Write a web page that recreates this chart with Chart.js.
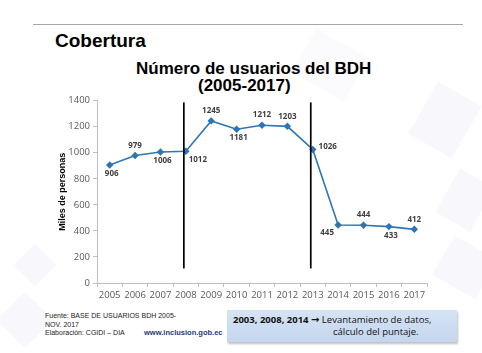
<!DOCTYPE html>
<html>
<head>
<meta charset="utf-8">
<script src="https://cdn.jsdelivr.net/npm/chart.js@4"></script>
<style>
  html, body { margin: 0; padding: 0; background: #fff; }
  body { width: 482px; height: 353px; position: relative; overflow: hidden; font-family: "Liberation Sans", Arial, sans-serif; }
  .deco { position: absolute; background: #f8f7fc; transform: rotate(30deg); }
  #topline { position: absolute; left: 33px; top: 24px; width: 430px; height: 1px; background: #a6a6a6; }
  #heading { position: absolute; left: 55px; top: 30px; font-size: 19px; font-weight: bold; color: #000; }
  .title { position: absolute; font-size: 17px; font-weight: bold; color: #000; white-space: nowrap; }
  #chartBox { position: absolute; left: 40px; top: 92px; width: 400px; height: 216px; }
  #source { position: absolute; left: 45px; top: 312px; font-size: 7px; line-height: 8.5px; color: #222; }
  #web { position: absolute; left: 144px; top: 328px; font-size: 7.5px; font-weight: bold; color: #1f3a78; }
  #note { position: absolute; left: 227px; top: 310px; width: 230px; height: 32px; box-sizing: border-box;
          background: linear-gradient(#d6e3f4, #c4d6ee); box-shadow: 1px 2px 2px rgba(0,0,0,0.25);
          font-family: "Open Sans", sans-serif; font-size: 9.5px; color: #111; padding: 4px 0 0 6px; line-height: 12px; }
  #note .arrow { font-family: "DejaVu Sans", sans-serif; font-weight: bold; font-size: 10px; }
  #note .l2 { padding-left: 100px; }
</style>
</head>
<body>
<div class="deco" style="left:300px; top:40px; width:60px; height:50px; opacity:0.6;"></div>
<div class="deco" style="left:420px; top:90px; width:50px; height:60px;"></div>
<div class="deco" style="left:445px; top:175px; width:40px; height:50px;"></div>
<div class="deco" style="left:440px; top:245px; width:50px; height:45px;"></div>
<div class="deco" style="left:20px; top:250px; width:30px; height:30px; transform: rotate(45deg);"></div>
<div class="deco" style="left:5px; top:300px; width:40px; height:40px; transform: rotate(45deg);"></div>
<div id="topline"></div>
<div id="heading">Cobertura</div>
<div class="title" style="left:136px; top:59px;">Número de usuarios del BDH</div>
<div class="title" style="left:198px; top:76px;">(2005-2017)</div>
<div id="chartBox"><canvas id="myChart"></canvas></div>
<div id="source">Fuente: BASE DE USUARIOS BDH 2005-<br>NOV. 2017<br>Elaboración: CGIDI – DIA</div>
<div id="web">www.inclusion.gob.ec</div>
<div id="note"><b>2003, 2008, 2014</b> <span class="arrow">&#x2192;</span> Levantamiento de datos,<div class="l2">cálculo del puntaje.</div></div>
<script>
const years = ["2005", "2006", "2007", "2008", "2009", "2010", "2011", "2012", "2013", "2014", "2015", "2016", "2017"];
const usuarios = [906, 979, 1006, 1012, 1245, 1181, 1212, 1203, 1026, 445, 444, 433, 412];
const labelPlace = ["below", "above", "below", "rightBelow", "above", "below", "above", "above", "right", "leftBelow", "above", "below", "above"];
const dividerYears = ["2008", "2013"];
const dividerSpan = [112, 1387];
const yTicks = [0, 200, 400, 600, 800, 1000, 1200, 1400];

const placeOffsets = {
  above: [0, -10],
  below: [2, 9],
  right: [15, -3],
  rightBelow: [12, 8],
  leftBelow: [-11, 8],
};

const dividerPlugin = {
  id: "dividers",
  afterDatasetsDraw(chart) {
    const { ctx, scales: { x, y } } = chart;
    ctx.save();
    ctx.strokeStyle = "#000";
    ctx.lineWidth = 1.7;
    dividerYears.forEach(yr => {
      const px = x.getPixelForValue(years.indexOf(yr)) - 2;
      ctx.beginPath();
      ctx.moveTo(px, y.getPixelForValue(dividerSpan[1]));
      ctx.lineTo(px, y.getPixelForValue(dividerSpan[0]));
      ctx.stroke();
    });
    ctx.restore();
  },
};

const valueLabels = {
  id: "valueLabels",
  afterDraw(chart) {
    const { ctx } = chart;
    const pts = chart.getDatasetMeta(0).data;
    ctx.save();
    ctx.font = "bold 8px 'Open Sans', sans-serif";
    ctx.fillStyle = "#404040";
    ctx.textAlign = "center";
    ctx.textBaseline = "middle";
    pts.forEach((p, i) => {
      const off = placeOffsets[labelPlace[i]];
      ctx.fillText(String(usuarios[i]), p.x + off[0], p.y + off[1]);
    });
    ctx.restore();
  },
};

const data = {
  labels: years,
  datasets: [
    {
      label: "Usuarios",
      data: usuarios,
      borderColor: "#2e75b6",
      backgroundColor: "#2e75b6",
      borderWidth: 1.6,
      pointStyle: "rectRot",
      pointRadius: 2.6,
      pointHoverRadius: 2.6,
      tension: 0,
    },
  ],
};

const options = {
  responsive: true,
  maintainAspectRatio: false,
  animation: false,
  layout: { padding: { top: 7, right: 13, left: 0, bottom: 0 } },
  plugins: {
    legend: { display: false },
    tooltip: { enabled: false },
  },
  scales: {
    x: {
      offset: true,
      grid: { offset: true, drawOnChartArea: false, drawTicks: true, tickLength: 4, color: "#bfbfbf" },
      border: { color: "#bfbfbf" },
      ticks: { color: "#595959", font: { family: "Open Sans", size: 9.5 }, padding: 3, maxRotation: 0, autoSkip: false },
      afterFit: s => { s.height = 25; },
    },
    y: {
      min: 0,
      max: 1400,
      afterBuildTicks: s => { s.ticks = yTicks.map(v => ({ value: v })); },
      grid: { drawOnChartArea: false, drawTicks: true, tickLength: 4, color: "#bfbfbf" },
      border: { color: "#bfbfbf" },
      ticks: { color: "#595959", font: { family: "Open Sans", size: 9.5 }, padding: 3, callback: v => String(v) },
      title: { display: true, text: "Miles de personas", color: "#000", font: { family: "Liberation Sans", size: 9, weight: "bold" }, padding: { top: 17, bottom: 0 } },
      afterFit: s => { s.width = 57; },
    },
  },
};

new Chart(document.getElementById("myChart"), {
  type: "line",
  data,
  options,
  plugins: [dividerPlugin, valueLabels],
});
</script>
</body>
</html>
